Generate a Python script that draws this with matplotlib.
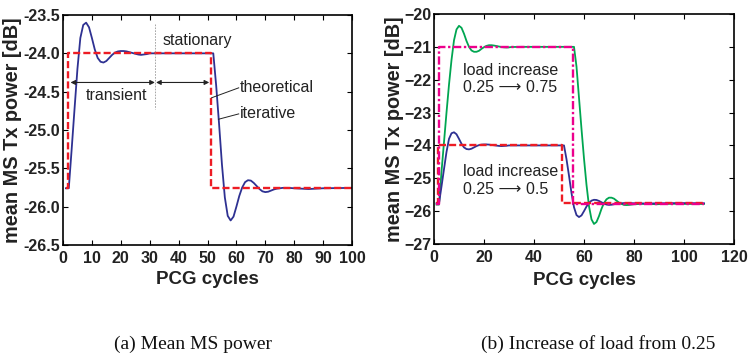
import matplotlib
matplotlib.use('Agg')
import matplotlib.pyplot as plt

plt.rcParams['font.family'] = ['Liberation Sans', 'DejaVu Sans']

# iterative mean MS power, load 0.25 -> 0.5 -> 0.25
blue_x = [1, 2, 3, 4, 5, 6, 7, 8, 9, 10, 11, 12, 13, 14, 15, 16, 17, 18, 19, 20,
          21, 22, 23, 24, 25, 26, 27, 28, 29, 30, 32, 40, 52, 53, 54, 55, 56, 57,
          58, 59, 60, 61, 62, 63, 64, 65, 66, 67, 68, 69, 70, 71, 72, 73, 74, 75,
          76, 78, 80, 85, 90, 100, 108]
blue_y = [-25.76, -25.76, -25.25, -24.72, -24.2, -23.8, -23.63, -23.6, -23.66, -23.8,
          -23.95, -24.06, -24.11, -24.12, -24.1, -24.06, -24.02, -23.99, -23.975, -23.97,
          -23.97, -23.975, -23.985, -23.995, -24.005, -24.015, -24.02, -24.015, -24.01, -24.0,
          -24.0, -24.0, -24.0, -24.42, -24.92, -25.45, -25.88, -26.12,
          -26.18, -26.13, -26.0, -25.86, -25.75, -25.68, -25.655, -25.66, -25.69, -25.73,
          -25.77, -25.8, -25.81, -25.805, -25.79, -25.775, -25.765, -25.76,
          -25.755, -25.755, -25.76, -25.77, -25.76, -25.755, -25.76]

# theoretical values, load 0.25 -> 0.5 -> 0.25
theo_x = [1, 1.8, 1.8, 51.2, 51.2, 108]
theo_y = [-25.76, -25.76, -24.0, -24.0, -25.76, -25.76]

# iterative mean MS power, load 0.25 -> 0.75 -> 0.25
green_x = [1, 2, 3, 4, 5, 6, 7, 8, 9, 10, 11, 12, 13, 14, 15, 16, 17, 18, 19, 20,
           21, 22, 23, 24, 25, 26, 27, 28, 29, 30, 31, 35, 45, 56, 57, 58, 59, 60,
           61, 62, 63, 64, 65, 66, 67, 68, 69, 70, 71, 72, 73, 74, 75, 76, 77, 78,
           79, 80, 83, 86, 89, 92, 96, 100, 108]
green_y = [-25.8, -25.8, -24.8, -23.9, -23.0, -22.15, -21.4, -20.8, -20.47, -20.36,
           -20.42, -20.6, -20.82, -21.0, -21.11, -21.15, -21.15, -21.12, -21.06, -21.01,
           -20.97, -20.95, -20.95, -20.96, -20.975, -20.99, -21.005, -21.015, -21.02, -21.015,
           -21.005, -21.0, -21.0, -21.0, -21.6, -22.55, -23.5, -24.4,
           -25.2, -25.85, -26.25, -26.39, -26.33, -26.15, -25.93, -25.75, -25.64, -25.59,
           -25.59, -25.62, -25.68, -25.74, -25.78, -25.81, -25.815, -25.81,
           -25.8, -25.79, -25.775, -25.78, -25.79, -25.78, -25.775, -25.78, -25.78]

# theoretical values, load 0.25 -> 0.75 -> 0.25
theo2_x = [1, 2.0, 2.0, 55.7, 55.7, 108]
theo2_y = [-25.78, -25.78, -21.0, -21.0, -25.78, -25.78]

left_yticks = [-23.5, -24.0, -24.5, -25.0, -25.5, -26.0, -26.5]
left_xticks = [0, 10, 20, 30, 40, 50, 60, 70, 80, 90, 100]
right_yticks = [-20, -21, -22, -23, -24, -25, -26, -27]
right_xticks = [0, 20, 40, 60, 80, 100, 120]

BLUE = '#2e3192'
RED = '#ed1c24'
GREEN = '#00a651'
MAGENTA = '#ec008c'
TXT = '#222222'

fig = plt.figure(figsize=(7.51, 3.55), dpi=100)
ax1 = fig.add_axes([63 / 751, 1 - 245 / 355, 289 / 751, 230 / 355])
ax2 = fig.add_axes([434 / 751, 1 - 244 / 355, 300 / 751, 230 / 355])


def style(ax):
    for s in ax.spines.values():
        s.set_linewidth(1.2)
    ax.tick_params(direction='in', top=True, right=True, length=3.5, width=0.8,
                   labelsize=11.5)
    ax.tick_params(axis='x', pad=4)
    ax.tick_params(axis='y', pad=2)
    for lab in ax.get_xticklabels() + ax.get_yticklabels():
        lab.set_fontweight('bold')
        lab.set_color('#222222')
    ax.set_xlabel('PCG cycles', fontsize=13.5, fontweight='bold', color='#222222')
    ax.set_ylabel('mean MS Tx power [dB]', fontsize=14.3, fontweight='bold', color='#222222')


# (a) mean MS power
ax1.plot(blue_x, blue_y, color=BLUE, lw=1.3)
ax1.plot(theo_x, theo_y, color=RED, lw=1.7, dashes=(3.0, 1.3))
ax1.set_xlim(0, 100)
ax1.set_ylim(-26.5, -23.5)
ax1.set_xticks(left_xticks)
ax1.set_yticks(left_yticks)
ax1.set_yticklabels(['%.1f' % v for v in left_yticks])
style(ax1)
ax1.yaxis.set_label_coords(-0.142, 0.5)
ax1.xaxis.set_label_coords(0.5, -0.112)

ax1.plot([32, 32], [-23.62, -24.72], color='#999999', lw=0.6, ls=(0, (2, 1.5)))
arr = dict(arrowstyle='<|-|>', color='#222222', lw=0.8, mutation_scale=7,
           shrinkA=0, shrinkB=0)
ax1.annotate('', xy=(2.6, -24.38), xytext=(31.8, -24.38), arrowprops=arr)
ax1.annotate('', xy=(32.2, -24.38), xytext=(50.6, -24.38), arrowprops=arr)
ax1.text(18.5, -24.55, 'transient', ha='center', va='center', fontsize=11.5, color=TXT)
ax1.text(34.5, -23.83, 'stationary', ha='left', va='center', fontsize=11.5, color=TXT)
ax1.plot([51.4, 60.8], [-24.58, -24.45], color='#222222', lw=0.7)
ax1.plot([53.8, 60.8], [-24.86, -24.79], color='#222222', lw=0.7)
ax1.text(61.2, -24.44, 'theoretical', ha='left', va='center', fontsize=11.5, color=TXT)
ax1.text(61.2, -24.78, 'iterative', ha='left', va='center', fontsize=11.5, color=TXT)

# (b) increase of load from 0.25
ax2.plot(green_x, green_y, color=GREEN, lw=1.3)
ax2.plot(blue_x, blue_y, color=BLUE, lw=1.3)
ax2.plot(theo_x, theo_y, color=RED, lw=1.7, dashes=(3.0, 1.3))
ax2.plot(theo2_x, theo2_y, color=MAGENTA, lw=1.7, dashes=(3.5, 1.1, 1.0, 1.1))
ax2.set_xlim(0, 120)
ax2.set_ylim(-27, -20)
ax2.set_xticks(right_xticks)
ax2.set_yticks(right_yticks)
style(ax2)
ax2.yaxis.set_label_coords(-0.10, 0.5)
ax2.xaxis.set_label_coords(0.5, -0.12)

ax2.text(11.5, -21.72, 'load increase', ha='left', va='center', fontsize=11.5, color=TXT)
ax2.text(11.5, -22.25, '0.25 \u27f6 0.75', ha='left', va='center', fontsize=11.5, color=TXT)
ax2.text(11.5, -24.8, 'load increase', ha='left', va='center', fontsize=11.5, color=TXT)
ax2.text(11.5, -25.33, '0.25 \u27f6 0.5', ha='left', va='center', fontsize=11.5, color=TXT)

fig.text(193 / 751, 11 / 355, '(a) Mean MS power', ha='center', va='center',
         family='Liberation Serif', fontsize=14, color='#111111')
fig.text(598 / 751, 11 / 355, '(b) Increase of load from 0.25', ha='center', va='center',
         family='Liberation Serif', fontsize=14, color='#111111')

fig.savefig('out.png', dpi=100)
